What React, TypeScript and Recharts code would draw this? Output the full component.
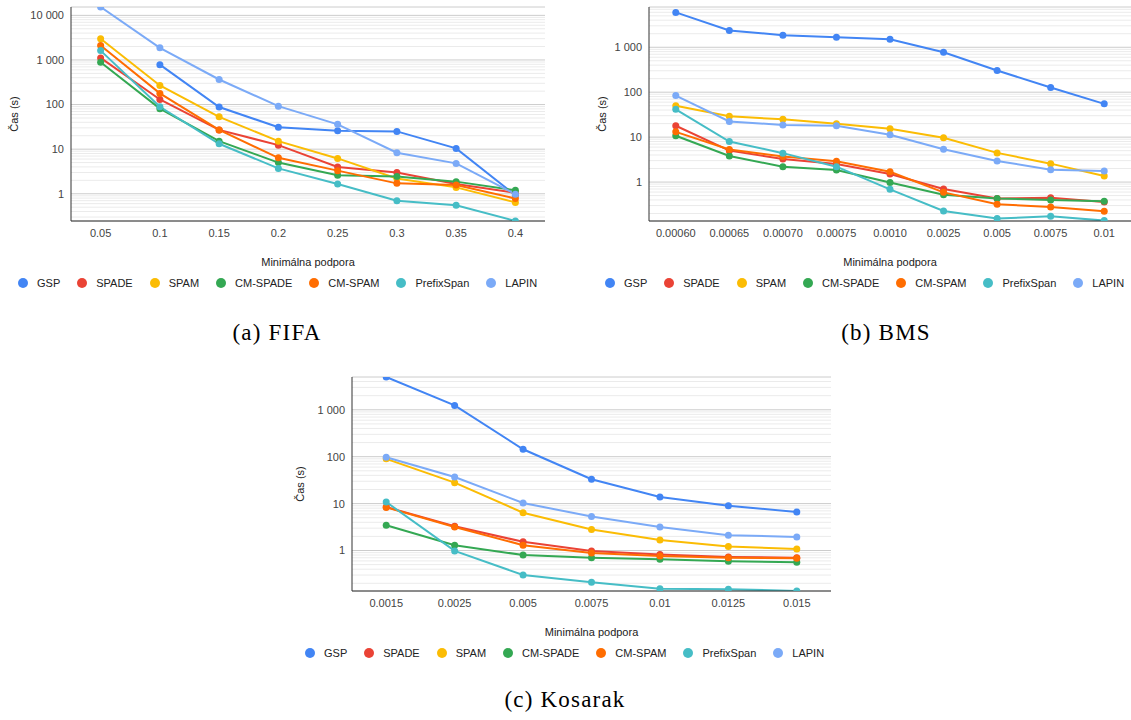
import { CartesianGrid, Line, LineChart, ReferenceLine, XAxis, YAxis } from "recharts";

const SERIES = ["GSP", "SPADE", "SPAM", "CM-SPADE", "CM-SPAM", "PrefixSpan", "LAPIN"];
const COLORS = ["#4285F4", "#EA4335", "#FBBC04", "#34A853", "#FF6D01", "#46BDC6", "#7BAAF7"];
const Y_TICKS = [1, 10, 100, 1000, 10000];

// (a) FIFA
const fifaSupport = ["0.05", "0.1", "0.15", "0.2", "0.25", "0.3", "0.35", "0.4"];
const fifaGsp = [null, 785, 88, 31, 26, 25, 10.4, 0.93];
const fifaSpade = [1110, 130, 27, 12.3, 4.0, 3.0, 1.65, 1.05];
const fifaSpam = [2980, 268, 53, 15.1, 6.2, 2.2, 1.39, 0.64];
const fifaCmSpade = [885, 81, 15.1, 5.0, 2.6, 2.45, 1.87, 1.2];
const fifaCmSpam = [2100, 178, 27, 6.4, 3.3, 1.71, 1.57, 0.78];
const fifaPrefix = [1620, 89, 13.2, 3.7, 1.65, 0.7, 0.55, 0.245];
const fifaLapin = [15400, 1870, 365, 92, 36, 8.3, 4.8, 0.98];

// (b) BMS
const bmsSupport = ["0.00060", "0.00065", "0.00070", "0.00075", "0.0010", "0.0025", "0.005", "0.0075", "0.01"];
const bmsGsp = [5970, 2360, 1860, 1675, 1510, 773, 305, 127, 55];
const bmsSpade = [17.9, 5.0, 3.27, 2.53, 1.51, 0.7, 0.43, 0.45, 0.36];
const bmsSpam = [50, 29, 24.9, 19.9, 15.4, 9.7, 4.46, 2.57, 1.36];
const bmsCmSpade = [10.7, 3.8, 2.2, 1.86, 0.98, 0.52, 0.43, 0.4, 0.376];
const bmsCmSpam = [13.1, 5.3, 3.7, 2.9, 1.7, 0.59, 0.32, 0.28, 0.224];
const bmsPrefix = [41.5, 8.0, 4.4, 2.2, 0.69, 0.228, 0.154, 0.173, 0.139];
const bmsLapin = [84, 22.4, 18.6, 17.9, 11.3, 5.4, 2.95, 1.89, 1.76];

// (c) Kosarak
const kosSupport = ["0.0015", "0.0025", "0.005", "0.0075", "0.01", "0.0125", "0.015"];
const kosGsp = [5000, 1240, 144, 33, 13.8, 9.0, 6.6];
const kosSpade = [8.45, 3.3, 1.53, 0.98, 0.82, 0.73, 0.7];
const kosSpam = [90, 28, 6.4, 2.8, 1.68, 1.22, 1.08];
const kosCmSpade = [3.45, 1.3, 0.8, 0.7, 0.65, 0.59, 0.565];
const kosCmSpam = [8.3, 3.18, 1.3, 0.89, 0.76, 0.7, 0.68];
const kosPrefix = [10.8, 0.98, 0.3, 0.21, 0.153, 0.15, 0.137];
const kosLapin = [97.5, 37, 10.3, 5.3, 3.18, 2.12, 1.95];

const fmtTick = (v: number) => String(v).replace(/\B(?=(\d{3})+(?!\d))/g, " ");

function minorLines(domain: [number, number]) {
  const out: number[] = [];
  for (let e = Math.floor(Math.log10(domain[0])); e <= Math.ceil(Math.log10(domain[1])); e++) {
    for (let m = 2; m <= 9; m++) {
      const v = m * Math.pow(10, e);
      if (v > domain[0] && v < domain[1]) out.push(v);
    }
  }
  return out;
}

type PanelProps = {
  cats: string[];
  values: (number | null)[][];
  domain: [number, number];
  left: number;
  top: number;
  width: number;
  yw: number;
  right: number;
  labelOffset: number;
  legendX: number;
  legendY: number;
  caption: string;
  captionX: number;
  captionY: number;
};

function Panel(p: PanelProps) {
  const plotW = p.width - p.yw - p.right;
  const pad = plotW / (2 * p.cats.length);
  const rows = p.cats.map((c, i) => {
    const r: any = { x: c };
    SERIES.forEach((s, k) => (r[s] = p.values[k][i]));
    return r;
  });
  return (
    <>
      <div style={{ position: "absolute", left: p.left, top: p.top }}>
        <LineChart
          width={p.width}
          height={271}
          data={rows}
          margin={{ top: 7, right: p.right, bottom: 0, left: 0 }}
        >
          <CartesianGrid stroke="#cccccc" vertical={false} />
          {minorLines(p.domain).map((v) => (
            <ReferenceLine key={v} y={v} stroke="#ebebeb" />
          ))}
          <XAxis
            dataKey="x"
            interval={0}
            height={50}
            padding={{ left: pad, right: pad }}
            tickLine={false}
            tick={{ fontSize: 11, fill: "#444" }}
            stroke="#333"
            label={{ value: "Minimálna podpora", position: "insideBottom", offset: 5, fontSize: 11, fill: "#222" }}
          />
          <YAxis
            type="number"
            scale="log"
            domain={p.domain}
            allowDataOverflow
            ticks={Y_TICKS.filter((t) => t >= p.domain[0] && t <= p.domain[1])}
            tickFormatter={fmtTick}
            width={p.yw}
            tickLine={false}
            tickMargin={1}
            tick={{ fontSize: 11, fill: "#444" }}
            stroke="#333"
            label={{
              value: "Čas (s)",
              angle: -90,
              position: "insideLeft",
              offset: p.labelOffset,
              fontSize: 11,
              fill: "#222",
              style: { textAnchor: "middle" },
            }}
          />
          {SERIES.map((s, k) => (
            <Line
              key={s}
              type="linear"
              dataKey={s}
              stroke={COLORS[k]}
              strokeWidth={2}
              dot={{ r: 3.5, fill: COLORS[k], stroke: COLORS[k], strokeWidth: 0 }}
              activeDot={false}
              isAnimationActive={false}
            />
          ))}
        </LineChart>
      </div>
      <div
        style={{
          position: "absolute",
          left: p.legendX - 5,
          top: p.legendY - 7,
          display: "flex",
          alignItems: "center",
          fontSize: 11,
          lineHeight: "14px",
          color: "#222",
          whiteSpace: "nowrap",
        }}
      >
        {SERIES.map((s, k) => (
          <span key={s} style={{ display: "flex", alignItems: "center", marginRight: 17 }}>
            <span
              style={{ width: 10, height: 10, borderRadius: "50%", background: COLORS[k], marginRight: 9 }}
            />
            {s}
          </span>
        ))}
      </div>
      <div
        style={{
          position: "absolute",
          left: p.captionX - 150,
          top: p.captionY - 15,
          width: 300,
          textAlign: "center",
          fontFamily: "'Liberation Serif', serif",
          fontSize: 23,
          lineHeight: "30px",
          letterSpacing: 1.2,
          color: "#000",
        }}
      >
        {p.caption}
      </div>
    </>
  );
}

export default function App() {
  return (
    <div
      style={{
        position: "absolute",
        left: 0,
        top: 0,
        width: 1131,
        height: 720,
        background: "#fff",
        fontFamily: "'Liberation Sans', Arial, sans-serif",
        overflow: "hidden",
      }}
    >
      <Panel
        cats={fifaSupport}
        values={[fifaGsp, fifaSpade, fifaSpam, fifaCmSpade, fifaCmSpam, fifaPrefix, fifaLapin]}
        domain={[0.245, 15400]}
        left={0}
        top={0}
        width={560}
        yw={71}
        right={15}
        labelOffset={14}
        legendX={23}
        legendY={283}
        caption="(a) FIFA"
        captionX={277}
        captionY={333}
      />
      <Panel
        cats={bmsSupport}
        values={[bmsGsp, bmsSpade, bmsSpam, bmsCmSpade, bmsCmSpam, bmsPrefix, bmsLapin]}
        domain={[0.136, 7870]}
        left={560}
        top={0}
        width={571}
        yw={89}
        right={0}
        labelOffset={42}
        legendX={610}
        legendY={283}
        caption="(b) BMS"
        captionX={886}
        captionY={333}
      />
      <Panel
        cats={kosSupport}
        values={[kosGsp, kosSpade, kosSpam, kosCmSpade, kosCmSpam, kosPrefix, kosLapin]}
        domain={[0.137, 5000]}
        left={290}
        top={370}
        width={560}
        yw={62}
        right={19}
        labelOffset={10}
        legendX={310}
        legendY={653}
        caption="(c) Kosarak"
        captionX={565}
        captionY={700}
      />
    </div>
  );
}
